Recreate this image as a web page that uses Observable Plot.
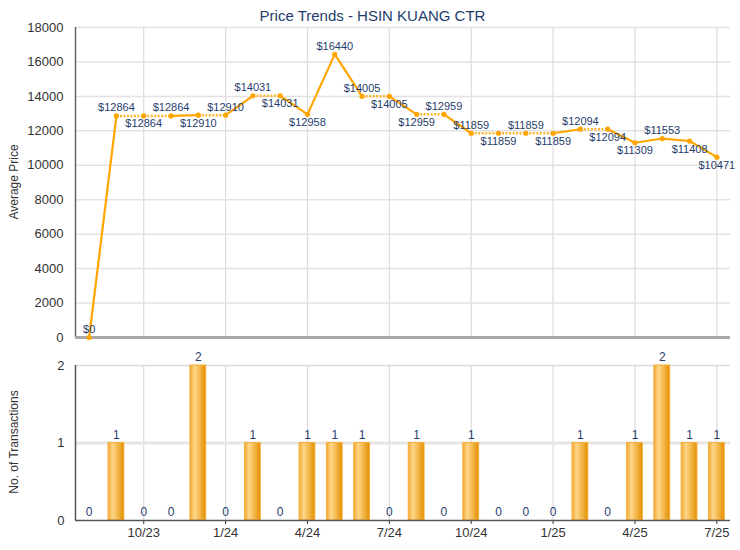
<!DOCTYPE html>
<html><head><meta charset="utf-8">
<script src="https://cdn.jsdelivr.net/npm/d3@7"></script>
<script src="https://cdn.jsdelivr.net/npm/@observablehq/plot@0.6"></script>
<style>
body{margin:0;background:#fff;font-family:"Liberation Sans",Arial,sans-serif;}
#wrap{position:relative;width:740px;height:550px;overflow:hidden;}
#title{position:absolute;top:7px;left:0;width:745px;text-align:center;font-size:15px;line-height:18px;color:#1f3d6c;}
#top{position:absolute;top:0;left:0}
#bot{position:absolute;top:345px;left:0}
</style></head><body>
<div id="wrap"><div id="top"></div><div id="bot"></div><div id="title">Price Trends - HSIN KUANG CTR</div></div>
<script>
const months = ["8/23","9/23","10/23","11/23","12/23","1/24","2/24","3/24","4/24","5/24","6/24","7/24","8/24","9/24","10/24","11/24","12/24","1/25","2/25","3/25","4/25","5/25","6/25","7/25"];
const avgPrice = [0,12864,12864,12864,12910,12910,14031,14031,12958,16440,14005,14005,12959,12959,11859,11859,11859,11859,12094,12094,11309,11553,11408,10471];
const txCount = [0,1,0,0,2,0,1,0,1,1,1,0,1,0,1,0,0,0,1,0,1,2,1,1];
const tickMonths = ["10/23","1/24","4/24","7/24","10/24","1/25","4/25","7/25"];
const priceTicks = [0,2000,4000,6000,8000,10000,12000,14000,16000,18000];
const countTicks = [0,1,2];
// label placement: -1 above the point, 1 below
const labelSide = [-1,-1,1,-1,1,-1,-1,1,1,-1,-1,1,1,-1,-1,1,-1,1,-1,1,1,-1,1,1];

const rows = months.map((m,i)=>({i, month:m, price:avgPrice[i], count:txCount[i], side:labelSide[i]}));
const segs = rows.slice(1).map((d,k)=>({a:rows[k], b:d, dotted:d.count===0}));
const xDomain = [-0.5, months.length-0.5];
const tickIdx = tickMonths.map(m=>months.indexOf(m));
const font = "'Liberation Sans', Arial, sans-serif";
const ORANGE = "#FFA500";
const NAVY = "#1f3d6c";

const topPlot = Plot.plot({
  width:740, height:345, marginLeft:75, marginRight:10, marginTop:27, marginBottom:8,
  style:{fontFamily:font, fontSize:"13px", color:"#333", background:"transparent", overflow:"visible"},
  x:{type:"linear", domain:xDomain, axis:null},
  y:{domain:[0,18000], ticks:priceTicks, tickSize:0, tickPadding:12, label:null, tickFormat:d=>String(d)},
  marks:[
    Plot.ruleX(tickIdx, {stroke:"#dcdcdc", strokeWidth:1.2}),
    Plot.ruleY(priceTicks, {stroke:"#e2e2e2", strokeWidth:1.5}),
    Plot.ruleX([xDomain[0]], {stroke:"#666", strokeWidth:1.5}),
    Plot.ruleY([0], {stroke:"#a8a8a8", strokeWidth:3}),
    Plot.link(segs.filter(s=>!s.dotted), {x1:s=>s.a.i, y1:s=>s.a.price, x2:s=>s.b.i, y2:s=>s.b.price, stroke:ORANGE, strokeWidth:2.2}),
    Plot.link(segs.filter(s=>s.dotted), {x1:s=>s.a.i, y1:s=>s.a.price, x2:s=>s.b.i, y2:s=>s.b.price, stroke:"#ffb52e", strokeWidth:2.5, strokeDasharray:"2,1.5"}),
    Plot.dot(rows, {x:"i", y:"price", r:2.6, fill:ORANGE}),
    Plot.text(rows.filter(d=>d.side<0), {x:"i", y:"price", text:d=>"$"+d.price, dy:-8, lineAnchor:"middle", fill:NAVY, fontSize:11}),
    Plot.text(rows.filter(d=>d.side>0), {x:"i", y:"price", text:d=>"$"+d.price, dy:8, lineAnchor:"middle", fill:NAVY, fontSize:11})
  ]
});
d3.select(topPlot).append("text").attr("transform","translate(15,182) rotate(-90)")
  .attr("text-anchor","middle").attr("dominant-baseline","middle")
  .attr("font-size",12).attr("fill","#333").attr("font-family",font).text("Average Price");
document.getElementById("top").appendChild(topPlot);

const botPlot = Plot.plot({
  width:740, height:205, marginLeft:75, marginRight:10, marginTop:20, marginBottom:30,
  style:{fontFamily:font, fontSize:"13px", color:"#333", background:"transparent", overflow:"visible"},
  x:{type:"linear", domain:xDomain, ticks:tickIdx, tickFormat:i=>months[i], tickSize:4, tickPadding:3, label:null},
  y:{domain:[0,2], ticks:countTicks, tickSize:0, tickPadding:11, label:null, tickFormat:d=>String(d)},
  marks:[
    Plot.ruleX(tickIdx, {stroke:"#dcdcdc", strokeWidth:1.2}),
    Plot.ruleY([1], {stroke:"#e6e6e6", strokeWidth:3}),
    Plot.ruleY([2], {stroke:"#dcdcdc", strokeWidth:1.5}),
    Plot.rectY(rows.filter(d=>d.count>0), {x1:d=>d.i-0.29, x2:d=>d.i+0.29, y1:d=>0, y2:"count", fill:"url(#barGrad)", stroke:"#f4b13e", strokeWidth:1}),
    Plot.ruleX([xDomain[0]], {stroke:"#555", strokeWidth:1.5}),
    Plot.ruleY([0], {stroke:"#555", strokeWidth:1.5}),
    Plot.text(rows, {x:"i", y:"count", text:d=>String(d.count), dy:-8, lineAnchor:"middle", fill:NAVY, fontSize:12})
  ]
});
d3.select(botPlot).insert("defs", ":first-child").html(
  '<linearGradient id="barGrad" x1="0" x2="1" y1="0" y2="0">' +
  '<stop offset="0" stop-color="#f3a833"/><stop offset="0.3" stop-color="#fdd68a"/>' +
  '<stop offset="0.65" stop-color="#f2b445"/><stop offset="1" stop-color="#e38f00"/></linearGradient>');
d3.select(botPlot).append("text").attr("transform","translate(15,97) rotate(-90)")
  .attr("text-anchor","middle").attr("dominant-baseline","middle")
  .attr("font-size",12).attr("fill","#333").attr("font-family",font).text("No. of Transactions");
document.getElementById("bot").appendChild(botPlot);
</script>
</body></html>
